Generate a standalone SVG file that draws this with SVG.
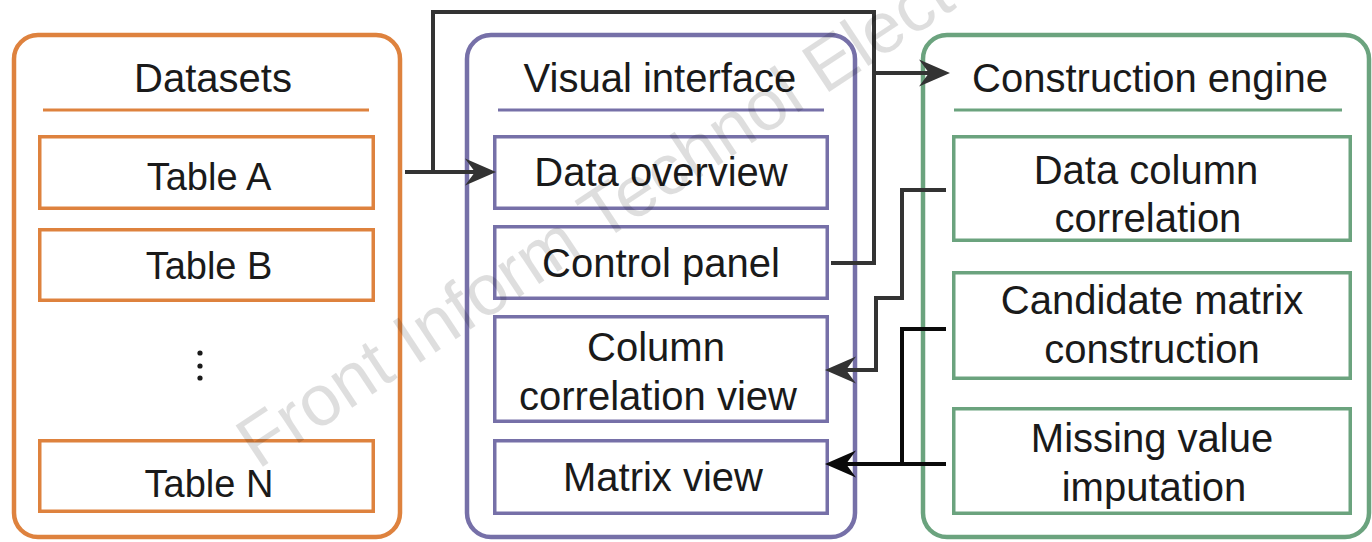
<svg xmlns="http://www.w3.org/2000/svg" width="1372" height="542" viewBox="0 0 1372 542">
<defs>
<style>
.outer{fill:#fff;stroke-width:4.5}
.inner{fill:#fff;stroke-width:3.5}
.uline{stroke-width:3}
.or{stroke:#DE823E}
.pu{stroke:#7670A8}
.gr{stroke:#6BA37E}
text{font-family:"Liberation Sans",Arial,sans-serif;fill:#1a1a1a;text-anchor:middle}
.h{font-size:40px}
.t{font-size:40px}
.tb{font-size:38px}
.conn{fill:none;stroke-width:4}
.wm{font-family:"Liberation Sans",Arial,sans-serif;font-size:72px;fill:#000;fill-opacity:0.13;text-anchor:start}
</style>
<marker id="ag" markerUnits="userSpaceOnUse" orient="auto" refX="-8" refY="0" markerWidth="40" markerHeight="30" overflow="visible">
<path d="M0,0 L-31,-13.5 L-21,0 L-31,13.5 Z" fill="#333"/>
</marker>
<marker id="ab" markerUnits="userSpaceOnUse" orient="auto" refX="-8" refY="0" markerWidth="40" markerHeight="30" overflow="visible">
<path d="M0,0 L-31,-13.5 L-21,0 L-31,13.5 Z" fill="#0a0a0a"/>
</marker>
</defs>
<rect width="1372" height="542" fill="#fff"/>

<g id="datasets">
<rect class="outer or" x="14" y="35" width="386" height="502" rx="24"/>
<text class="h" x="213" y="92">Datasets</text>
<line class="uline or" x1="43" y1="110" x2="369" y2="110"/>
</g>
<g id="table-a"><rect class="inner or" x="39.75" y="136.75" width="333.5" height="71.5"/><text class="tb" x="209" y="190">Table A</text></g>
<g id="table-b"><rect class="inner or" x="39.75" y="229.75" width="333.5" height="70.5"/><text class="tb" x="209" y="279">Table B</text></g>
<g id="ellipsis"><circle cx="200" cy="353" r="2.6" fill="#1a1a1a"/><circle cx="200" cy="366" r="2.6" fill="#1a1a1a"/><circle cx="200" cy="378" r="2.6" fill="#1a1a1a"/></g>
<g id="table-n"><rect class="inner or" x="39.75" y="440.75" width="333.5" height="70.5"/><text class="tb" x="209" y="497">Table N</text></g>

<g id="visual-interface">
<rect class="outer pu" x="467" y="35" width="388" height="502" rx="24"/>
<text class="h" x="660" y="92">Visual interface</text>
<line class="uline pu" x1="498" y1="110" x2="824" y2="110"/>
</g>
<g id="data-overview"><rect class="inner pu" x="494.75" y="136.75" width="332.5" height="71.5"/><text class="t" x="661" y="186">Data overview</text></g>
<g id="control-panel"><rect class="inner pu" x="494.75" y="226.75" width="332.5" height="71.5"/><text class="t" x="661" y="277">Control panel</text></g>
<g id="column-correlation-view"><rect class="inner pu" x="494.75" y="316.75" width="332.5" height="104.5"/><text class="t" x="656" y="361">Column</text><text class="t" x="658" y="410">correlation view</text></g>
<g id="matrix-view"><rect class="inner pu" x="494.75" y="440.75" width="332.5" height="72.5"/><text class="t" x="663" y="491">Matrix view</text></g>

<g id="construction-engine">
<rect class="outer gr" x="923" y="35" width="446" height="502" rx="24"/>
<text class="h" x="1150" y="92">Construction engine</text>
<line class="uline gr" x1="954" y1="110" x2="1342" y2="110"/>
</g>
<g id="data-column-correlation"><rect class="inner gr" x="953.75" y="136.75" width="396.5" height="103.5"/><text class="t" x="1146" y="184">Data column</text><text class="t" x="1148" y="232">correlation</text></g>
<g id="candidate-matrix-construction"><rect class="inner gr" x="953.75" y="272.75" width="396.5" height="105.5"/><text class="t" x="1152" y="314">Candidate matrix</text><text class="t" x="1152" y="363">construction</text></g>
<g id="missing-value-imputation"><rect class="inner gr" x="953.75" y="408.75" width="396.5" height="104.5"/><text class="t" x="1152" y="452">Missing value</text><text class="t" x="1154" y="501">imputation</text></g>

<g id="connectors">
<path class="conn" stroke="#333" d="M405,172 H488" marker-end="url(#ag)"/>
<path class="conn" stroke="#333" d="M433,172 V12 H874 V263 H831"/>
<path class="conn" stroke="#333" d="M874,73 H942" marker-end="url(#ag)"/>
<path class="conn" stroke="#333" d="M946,190 H902 V298 H876 V370 H833" marker-end="url(#ag)"/>
<path class="conn" stroke="#0a0a0a" d="M946,329 H902 V464"/>
<path class="conn" stroke="#0a0a0a" d="M946,464 H833" marker-end="url(#ab)"/>
</g>

<text class="wm" transform="translate(258,470) rotate(-33.5)">Front Inform Technol Elect</text>
</svg>
